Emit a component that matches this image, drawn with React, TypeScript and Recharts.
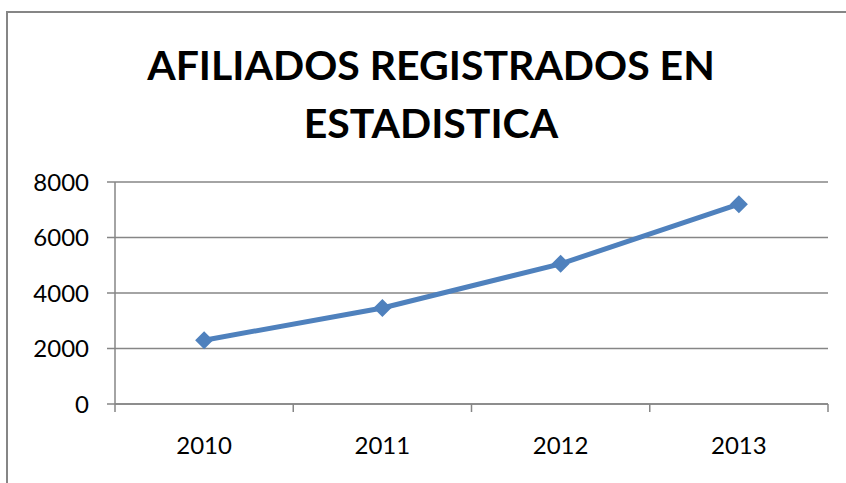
import { CartesianGrid, Line, LineChart, XAxis, YAxis } from "recharts";

const YEARS = ["2010", "2011", "2012", "2013"];
const AFILIADOS = [2300, 3460, 5050, 7200];
const Y_TICKS = [0, 2000, 4000, 6000, 8000];

const data = YEARS.map((year, i) => ({ year, afiliados: AFILIADOS[i] }));

const GRAY = "#868686";
const BLUE = "#4F81BD";
const FONT = "Lato, 'Open Sans', sans-serif";
const X_TICK_SIZE = 8;
const X_TICK_MARGIN = 25;

function Diamond(props: { cx?: number; cy?: number; index?: number }) {
    const { cx, cy } = props;
    if (cx == null || cy == null) return null;
    const r = 9;
    return (
        <polygon
            key={props.index}
            points={`${cx},${cy - r} ${cx + r},${cy} ${cx},${cy + r} ${cx - r},${cy}`}
            fill={BLUE}
        />
    );
}

// label at the band centre, tick marks on the band edges (Excel style)
function YearTick(props: any) {
    const { x, y, payload, index } = props;
    const half = payload?.offset ?? 0;
    const axisY = y - X_TICK_SIZE - X_TICK_MARGIN;
    const last = index === YEARS.length - 1;
    return (
        <g>
            {half > 0 && (
                <line x1={x - half} x2={x - half} y1={axisY} y2={axisY + X_TICK_SIZE} stroke={GRAY} strokeWidth={1.5} />
            )}
            {half > 0 && last && (
                <line x1={x + half} x2={x + half} y1={axisY} y2={axisY + X_TICK_SIZE} stroke={GRAY} strokeWidth={1.5} />
            )}
            <text x={x} y={y} dy="0.71em" textAnchor="middle" fill="#000" fontSize={24} fontFamily={FONT}>
                {payload.value}
            </text>
        </g>
    );
}

export default function App() {
    return (
        <div
            style={{
                position: "absolute",
                left: 0,
                top: 0,
                width: 846,
                height: 483,
                overflow: "hidden",
                background: "#fff",
                fontFamily: FONT,
            }}
        >
            <div
                style={{
                    position: "absolute",
                    left: 6,
                    top: 11,
                    width: 900,
                    height: 600,
                    border: `2px solid ${GRAY}`,
                }}
            />
            <div
                style={{
                    position: "absolute",
                    left: 0,
                    top: 36,
                    width: 862,
                    textAlign: "center",
                    fontWeight: 700,
                    fontSize: 41,
                    lineHeight: "58px",
                    color: "#000",
                }}
            >
                AFILIADOS REGISTRADOS EN
                <br />
                ESTADISTICA
            </div>
            <LineChart
                width={846}
                height={483}
                data={data}
                margin={{ top: 182, right: 18, bottom: 0, left: 0 }}
                style={{ position: "absolute", left: 0, top: 0 }}
            >
                <CartesianGrid vertical={false} stroke={GRAY} strokeWidth={1.5} />
                <XAxis
                    dataKey="year"
                    scale="band"
                    axisLine={{ stroke: GRAY, strokeWidth: 1.5 }}
                    tickLine={false}
                    tickSize={X_TICK_SIZE}
                    tickMargin={X_TICK_MARGIN}
                    height={79}
                    interval={0}
                    tick={<YearTick />}
                />
                <YAxis
                    domain={[0, 8000]}
                    ticks={Y_TICKS}
                    width={115}
                    axisLine={{ stroke: GRAY, strokeWidth: 1.5 }}
                    tickLine={{ stroke: GRAY, strokeWidth: 1.5 }}
                    tickSize={8}
                    tickMargin={18}
                    tick={{ fill: "#000", fontSize: 24, fontFamily: FONT }}
                />
                <Line
                    dataKey="afiliados"
                    stroke={BLUE}
                    strokeWidth={5}
                    dot={<Diamond />}
                    activeDot={false}
                    isAnimationActive={false}
                />
            </LineChart>
        </div>
    );
}
